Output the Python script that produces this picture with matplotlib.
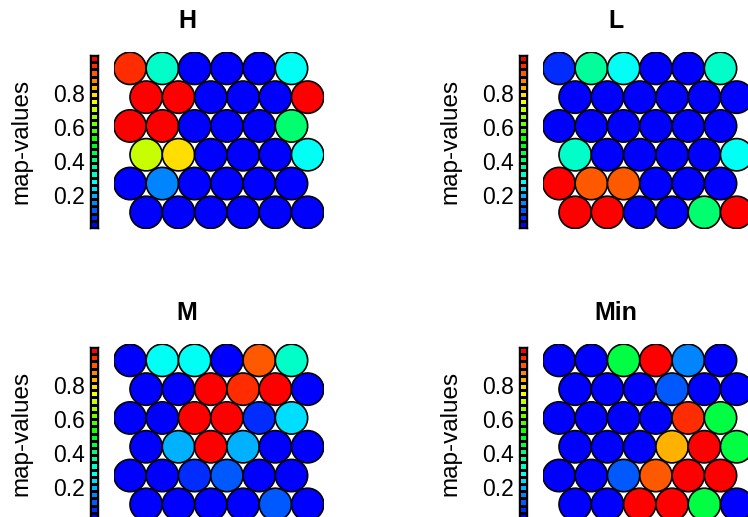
import numpy as np
import matplotlib
matplotlib.use('Agg')
import matplotlib.pyplot as plt
from matplotlib.collections import PatchCollection
from matplotlib.colors import BoundaryNorm, ListedColormap, hsv_to_rgb
from matplotlib.patches import Circle

plt.rcParams['font.family'] = ['Liberation Sans', 'DejaVu Sans']

# SOM property maps, 6 x 6 hexagonal grid, rows listed from the top
panel_names = ['H', 'L', 'M', 'Min']

H_values = [
    [0.96, 0.325, 0.03, 0.03, 0.03, 0.28],
    [1.00, 1.00, 0.03, 0.03, 0.03, 1.00],
    [1.00, 1.00, 0.03, 0.03, 0.03, 0.41],
    [0.705, 0.79, 0.03, 0.03, 0.03, 0.28],
    [0.03, 0.155, 0.03, 0.03, 0.03, 0.03],
    [0.03, 0.03, 0.03, 0.03, 0.03, 0.03],
]
L_values = [
    [0.07, 0.365, 0.28, 0.03, 0.03, 0.325],
    [0.03, 0.03, 0.03, 0.03, 0.03, 0.03],
    [0.03, 0.03, 0.03, 0.03, 0.03, 0.03],
    [0.325, 0.03, 0.03, 0.03, 0.03, 0.28],
    [1.00, 0.918, 0.918, 0.03, 0.03, 0.03],
    [1.00, 1.00, 0.03, 0.03, 0.41, 1.00],
]
M_values = [
    [0.03, 0.28, 0.28, 0.03, 0.918, 0.325],
    [0.03, 0.03, 1.00, 0.96, 1.00, 0.03],
    [0.03, 0.03, 1.00, 1.00, 0.07, 0.24],
    [0.03, 0.20, 1.00, 0.20, 0.03, 0.03],
    [0.03, 0.03, 0.07, 0.13, 0.03, 0.03],
    [0.03, 0.03, 0.03, 0.03, 0.13, 0.03],
]
Min_values = [
    [0.03, 0.03, 0.45, 1.00, 0.155, 0.03],
    [0.03, 0.03, 0.03, 0.11, 0.03, 0.03],
    [0.03, 0.03, 0.03, 0.03, 0.96, 0.45],
    [0.03, 0.03, 0.03, 0.835, 1.00, 0.45],
    [0.03, 0.03, 0.11, 0.918, 1.00, 1.00],
    [0.03, 0.03, 1.00, 1.00, 0.45, 0.03],
]
panel_values = [H_values, L_values, M_values, Min_values]

key_ticks = [0.2, 0.4, 0.6, 0.8]
key_labels = ['0.2', '0.4', '0.6', '0.8']
key_min, key_max = 0.006, 1.024

# blue -> red rainbow (coolBlueHotRed style), 24 steps
n_colors = 24
hues = np.linspace(4 / 6, 0, n_colors)
palette = hsv_to_rgb(np.column_stack([hues, np.ones(n_colors), np.ones(n_colors)]))
cmap = ListedColormap(palette)
bounds = np.linspace(key_min, key_max, n_colors + 1)
norm = BoundaryNorm(bounds, n_colors)

W, H = 748, 517
fig = plt.figure(figsize=(W / 100, H / 100), dpi=100)


def px_axes(left, top, width, height):
    return fig.add_axes([left / W, 1 - (top + height) / H, width / W, height / H])


DX = 32.3                  # px between neighbouring units
ROW_STEP = 28.8 / DX       # vertical row distance in units of DX

for i, (name, vals) in enumerate(zip(panel_names, panel_values)):
    ox = 429 * (i % 2)
    oy = 292 * (i // 2)
    vals = np.asarray(vals)
    nrow, ncol = vals.shape

    ax = px_axes(113.85 + ox, 52.2 + oy, (ncol + 0.5) * DX, ((nrow - 1) * ROW_STEP + 1) * DX)
    xs = np.arange(ncol)[None, :] + 0.5 * (np.arange(nrow)[:, None] % 2)
    ys = -np.arange(nrow)[:, None] * ROW_STEP + np.zeros((1, ncol))
    circles = [Circle((x, y), 0.5) for x, y in zip(xs.ravel(), ys.ravel())]
    pc = PatchCollection(circles, cmap=cmap, norm=norm, edgecolor='black', linewidth=1.2)
    pc.set_array(vals.ravel())
    ax.add_collection(pc)
    ax.set_xlim(-0.5, ncol)
    ax.set_ylim(-(nrow - 1) * ROW_STEP - 0.5, 0.5)
    ax.axis('off')

    # colour key
    kax = px_axes(90 + ox, 55 + oy, 7.5, 173)
    centers = (bounds[:-1] + bounds[1:]) / 2
    kax.pcolormesh([0, 1], bounds, centers.reshape(-1, 1), cmap=cmap, norm=norm,
                   edgecolors='black', linewidth=0.8)
    kax.set_xlim(0, 1)
    kax.set_ylim(key_min, key_max)
    kax.set_xticks([])
    kax.set_yticks(key_ticks)
    kax.set_yticklabels(key_labels)
    kax.tick_params(axis='y', length=0, pad=3.5, labelsize=16.5)
    kax.set_ylabel('map-values', fontsize=17.5, labelpad=15)
    for sp in kax.spines.values():
        sp.set_linewidth(1.0)

    fig.text((187 + ox) / W, 1 - (21 + oy) / H, name, ha='center', va='center',
             fontsize=18, fontweight='bold')

fig.savefig('out.png', dpi=100)
